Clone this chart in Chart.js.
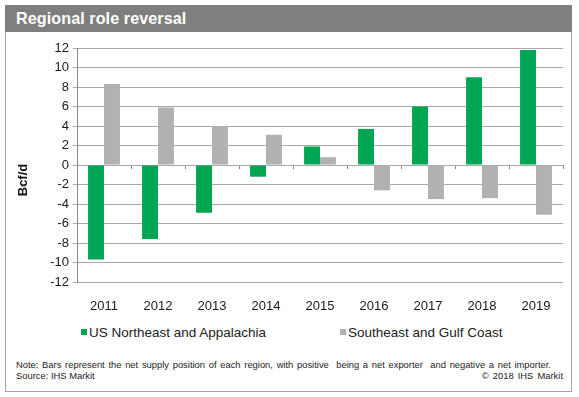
<!DOCTYPE html>
<html>
<head>
<meta charset="utf-8">
<script src="https://cdn.jsdelivr.net/npm/chart.js@4.4.1/dist/chart.umd.min.js"></script>
<style>
  html, body { margin: 0; padding: 0; background: #fff; }
  body { width: 579px; height: 397px; position: relative; overflow: hidden; font-family: "Liberation Sans", Arial, sans-serif; }
  #frame { position: absolute; left: 5px; top: 5px; width: 565px; height: 385px; border: 1px solid #a3a3a3; }
  #title { position: absolute; left: 5px; top: 5px; width: 567px; height: 27px; background: #7f7f7f; }
  #title span { position: absolute; left: 11px; top: 4px; color: #fff; font-weight: bold; font-size: 16.1px; letter-spacing: 0.1px; }
  #chart { position: absolute; left: 0; top: 0; }
  .leg { position: absolute; top: 325px; font-size: 13.5px; color: #222; white-space: nowrap; }
  .leg i { display: inline-block; width: 6px; height: 6px; margin-right: 2px; vertical-align: 2px; }
  .note { position: absolute; font-size: 9.4px; color: #222; white-space: nowrap; }
</style>
</head>
<body>
<div id="frame"></div>
<div id="title"><span>Regional role reversal</span></div>
<canvas id="chart" width="579" height="320"></canvas>
<div id="legend"></div>
<div class="note" style="left:16px; top:359px; word-spacing:1.1px;">Note: Bars represent the net supply position of each region, with positive&nbsp; being a net exporter&nbsp; and negative a net importer.</div>
<div class="note" style="left:16px; top:370px;">Source: IHS Markit</div>
<div class="note" style="right:16px; top:370px; word-spacing:1.5px;">© 2018 IHS Markit</div>
<script>
// values (Bcf/d)
const years = ['2011', '2012', '2013', '2014', '2015', '2016', '2017', '2018', '2019'];
const northeast = [-9.7, -7.6, -4.9, -1.2, 1.9, 3.7, 6.0, 9.0, 11.8];
const southeast = [8.3, 5.9, 4.0, 3.1, 0.8, -2.6, -3.5, -3.4, -5.1];
const seriesNames = ['US Northeast and Appalachia', 'Southeast and Gulf Coast'];
const seriesColors = ['#00a651', '#b1b1b4'];
const yTicks = [-12, -10, -8, -6, -4, -2, 0, 2, 4, 6, 8, 10, 12];

// legend in html, spread like the original
const legend = document.getElementById('legend');
const legendLeft = [81, 340];
seriesNames.forEach(function(name, i) {
    const el = document.createElement('div');
    el.className = 'leg';
    el.style.left = legendLeft[i] + 'px';
    el.innerHTML = '<i style="background:' + seriesColors[i] + '"></i>' + name;
    legend.appendChild(el);
});

const gridGray = '#a8a8a8';

// rotated axis title, sits a bit below the middle like the original
const axisTitle = {
    id: 'axisTitle',
    afterDraw(chart) {
        const ctx = chart.ctx;
        ctx.save();
        ctx.translate(23, 180);
        ctx.rotate(-Math.PI / 2);
        ctx.font = 'bold 13px "Liberation Sans", Arial, sans-serif';
        ctx.fillStyle = '#111';
        ctx.textAlign = 'center';
        ctx.textBaseline = 'middle';
        ctx.fillText('Bcf/d', 0, 0);
        ctx.restore();
    }
};

new Chart(document.getElementById('chart').getContext('2d'), {
    type: 'bar',
    data: {
        labels: years,
        datasets: [{
            label: seriesNames[0],
            data: northeast,
            backgroundColor: seriesColors[0]
        }, {
            label: seriesNames[1],
            data: southeast,
            backgroundColor: seriesColors[1]
        }]
    },
    options: {
        responsive: false,
        animation: false,
        events: [],
        layout: { padding: { top: 48, right: 16, bottom: 0, left: 0 } },
        datasets: { bar: { categoryPercentage: 0.59, barPercentage: 1.0 } },
        plugins: { legend: { display: false }, tooltip: { enabled: false } },
        scales: {
            x: {
                grid: { display: false },
                border: { display: false },
                ticks: {
                    color: '#1a1a1a',
                    padding: 9,
                    font: { family: '"Liberation Sans", Arial, sans-serif', size: 13 }
                },
                afterFit: function(s) { s.height = 38; }
            },
            x0: {
                type: 'category',
                labels: years,
                offset: true,
                position: { y: 0 },
                ticks: { display: false },
                border: { display: false },
                grid: {
                    offset: true,
                    drawOnChartArea: false,
                    drawTicks: true,
                    tickLength: 4,
                    color: '#8a8a8a'
                }
            },
            y: {
                min: yTicks[0],
                max: yTicks[yTicks.length - 1],
                afterBuildTicks: function(s) { s.ticks = yTicks.map(function(v) { return { value: v }; }); },
                grid: { color: gridGray, tickLength: 4 },
                border: { display: true, color: '#8a8a8a' },
                ticks: {
                    color: '#1a1a1a',
                    padding: 4,
                    font: { family: '"Liberation Sans", Arial, sans-serif', size: 13 }
                },
                afterFit: function(s) { s.width = 77; }
            }
        }
    },
    plugins: [axisTitle]
});
</script>
</body>
</html>
